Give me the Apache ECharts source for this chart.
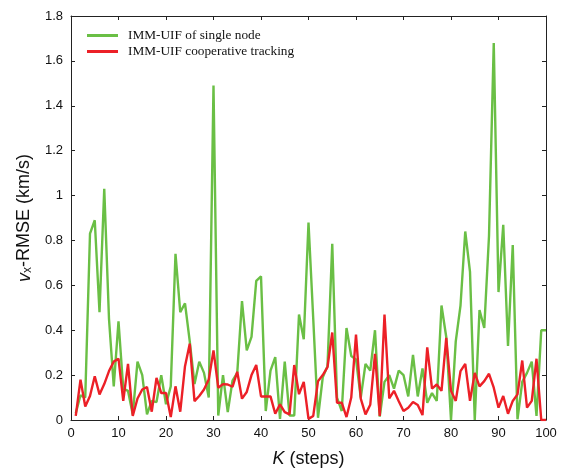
<!DOCTYPE html>
<html>
<head>
<meta charset="utf-8">
<script src="https://cdn.jsdelivr.net/npm/echarts@6/dist/echarts.min.js"></script>
<style>
html,body{margin:0;padding:0;background:#fff;}
#chart{width:568px;height:473px;}
</style>
</head>
<body>
<div id="chart"></div>
<script>
// tick labels
var xTicks = [0,10,20,30,40,50,60,70,80,90,100];
var yTicks = [0,0.2,0.4,0.6,0.8,1,1.2,1.4,1.6,1.8];
var seriesNames = ['IMM-UIF of single node', 'IMM-UIF cooperative tracking'];

// K steps 1..100
var steps = [];
for (var s = 1; s <= 100; s++) steps.push(s);

// v_x-RMSE, single node (green)
var singleNode = [
0.03,0.11,0.10,0.83,0.89,0.48,1.03,0.45,0.15,0.44,
0.14,0.13,0.025,0.26,0.20,0.025,0.085,0.08,0.20,0.07,
0.15,0.74,0.48,0.52,0.35,0.16,0.26,0.21,0.10,1.49,
0.02,0.20,0.035,0.175,0.21,0.53,0.31,0.37,0.62,0.64,
0.04,0.22,0.28,0.005,0.26,0.02,0.02,0.47,0.36,0.88,
0.45,0.01,0.19,0.24,0.785,0.10,0.04,0.41,0.285,0.27,
0.10,0.25,0.22,0.40,0.015,0.17,0.20,0.14,0.22,0.20,
0.105,0.29,0.105,0.23,0.077,0.12,0.085,0.51,0.37,0.0,
0.35,0.51,0.84,0.66,0.0,0.49,0.41,0.82,1.68,0.57,
0.87,0.33,0.78,0.003,0.17,0.21,0.26,0.018,0.40,0.40
];

// v_x-RMSE, cooperative tracking (red)
var cooperative = [
0.018,0.18,0.06,0.107,0.195,0.114,0.16,0.218,0.26,0.273,
0.085,0.25,0.018,0.096,0.136,0.147,0.037,0.188,0.12,0.12,
0.013,0.15,0.037,0.24,0.34,0.084,0.107,0.136,0.18,0.31,
0.144,0.16,0.158,0.148,0.215,0.095,0.125,0.2,0.245,0.105,
0.105,0.105,0.028,0.07,0.035,0.025,0.245,0.115,0.17,0.005,
0.018,0.173,0.2,0.236,0.39,0.077,0.077,0.013,0.1,0.38,
0.095,0.025,0.068,0.295,0.018,0.47,0.096,0.13,0.084,0.04,
0.055,0.08,0.067,0.022,0.324,0.14,0.158,0.13,0.366,0.13,
0.085,0.218,0.25,0.085,0.21,0.15,0.173,0.206,0.144,0.055,
0.107,0.028,0.085,0.114,0.265,0.055,0.085,0.273,0.0,0.0
];

function pairs(vals){ return steps.map(function(k,i){ return [k, vals[i]]; }); }

var chart = echarts.init(document.getElementById('chart'), null, {renderer:'canvas'});
var axisCol = '#222';
var lblFont = 'Liberation Sans, Arial, sans-serif';
var xMin = xTicks[0], xMax = xTicks[xTicks.length-1], xInt = xTicks[1]-xTicks[0];
var yMin = yTicks[0], yMax = yTicks[yTicks.length-1], yInt = 0.2;

function xAx(pos, labels){
  return {
    type:'value', position:pos, min:xMin, max:xMax, interval:xInt,
    axisLine:{show:true, onZero:false, lineStyle:{color:axisCol, width:1}},
    axisTick:{show:true, inside:true, length:4, lineStyle:{color:axisCol}},
    axisLabel:{show:labels, color:'#111', fontSize:13, fontFamily:lblFont, margin:7},
    splitLine:{show:false}
  };
}
function yAx(pos, labels){
  return {
    type:'value', position:pos, min:yMin, max:yMax, interval:yInt,
    axisLine:{show:true, onZero:false, lineStyle:{color:axisCol, width:1}},
    axisTick:{show:true, inside:true, length:4, lineStyle:{color:axisCol}},
    axisLabel:{show:labels, color:'#111', fontSize:13, fontFamily:lblFont, margin:8,
      formatter:function(v){ return String(Math.round(v*10)/10); }},
    splitLine:{show:false}
  };
}

var xa = xAx('bottom', true);
xa.name = '{i|K} (steps)';
xa.nameLocation = 'middle';
xa.nameGap = 30;
xa.nameTextStyle = {fontSize:18, fontFamily:lblFont, color:'#111',
  rich:{i:{fontStyle:'italic', fontSize:18, fontFamily:lblFont, color:'#111'}}};
var ya = yAx('left', true);
ya.name = '{i|v}{s|x}-RMSE (km/s)';
ya.nameLocation = 'middle';
ya.nameGap = 36;
ya.nameTextStyle = {fontSize:18, fontFamily:lblFont, color:'#111',
  rich:{i:{fontStyle:'italic', fontSize:18, fontFamily:lblFont, color:'#111'},
        s:{fontSize:12, fontFamily:lblFont, color:'#111', verticalAlign:'bottom', padding:[7,0,0,0]}}};

chart.setOption({
  animation:false,
  backgroundColor:'#fff',
  grid:{left:71, right:22, top:16, bottom:52, containLabel:false},
  legend:{
    show:true, orient:'vertical', left:87, top:29, padding:0,
    itemWidth:31, itemHeight:3, itemGap:3, icon:'rect',
    textStyle:{fontFamily:'Liberation Serif, Times New Roman, serif', fontSize:13.3, color:'#111', lineHeight:13, padding:[0,0,0,5]},
    data:seriesNames
  },
  xAxis:[xa, xAx('top', false)],
  yAxis:[ya, yAx('right', false)],
  series:[
    {name:seriesNames[0], type:'line', data:pairs(singleNode), showSymbol:false, symbol:'none',
     lineStyle:{color:'#6abf45', width:2.4}, itemStyle:{color:'#6abf45'}, z:2},
    {name:seriesNames[1], type:'line', data:pairs(cooperative), showSymbol:false, symbol:'none',
     lineStyle:{color:'#ec2027', width:2.4}, itemStyle:{color:'#ec2027'}, z:3}
  ]
});
</script>
</body>
</html>
